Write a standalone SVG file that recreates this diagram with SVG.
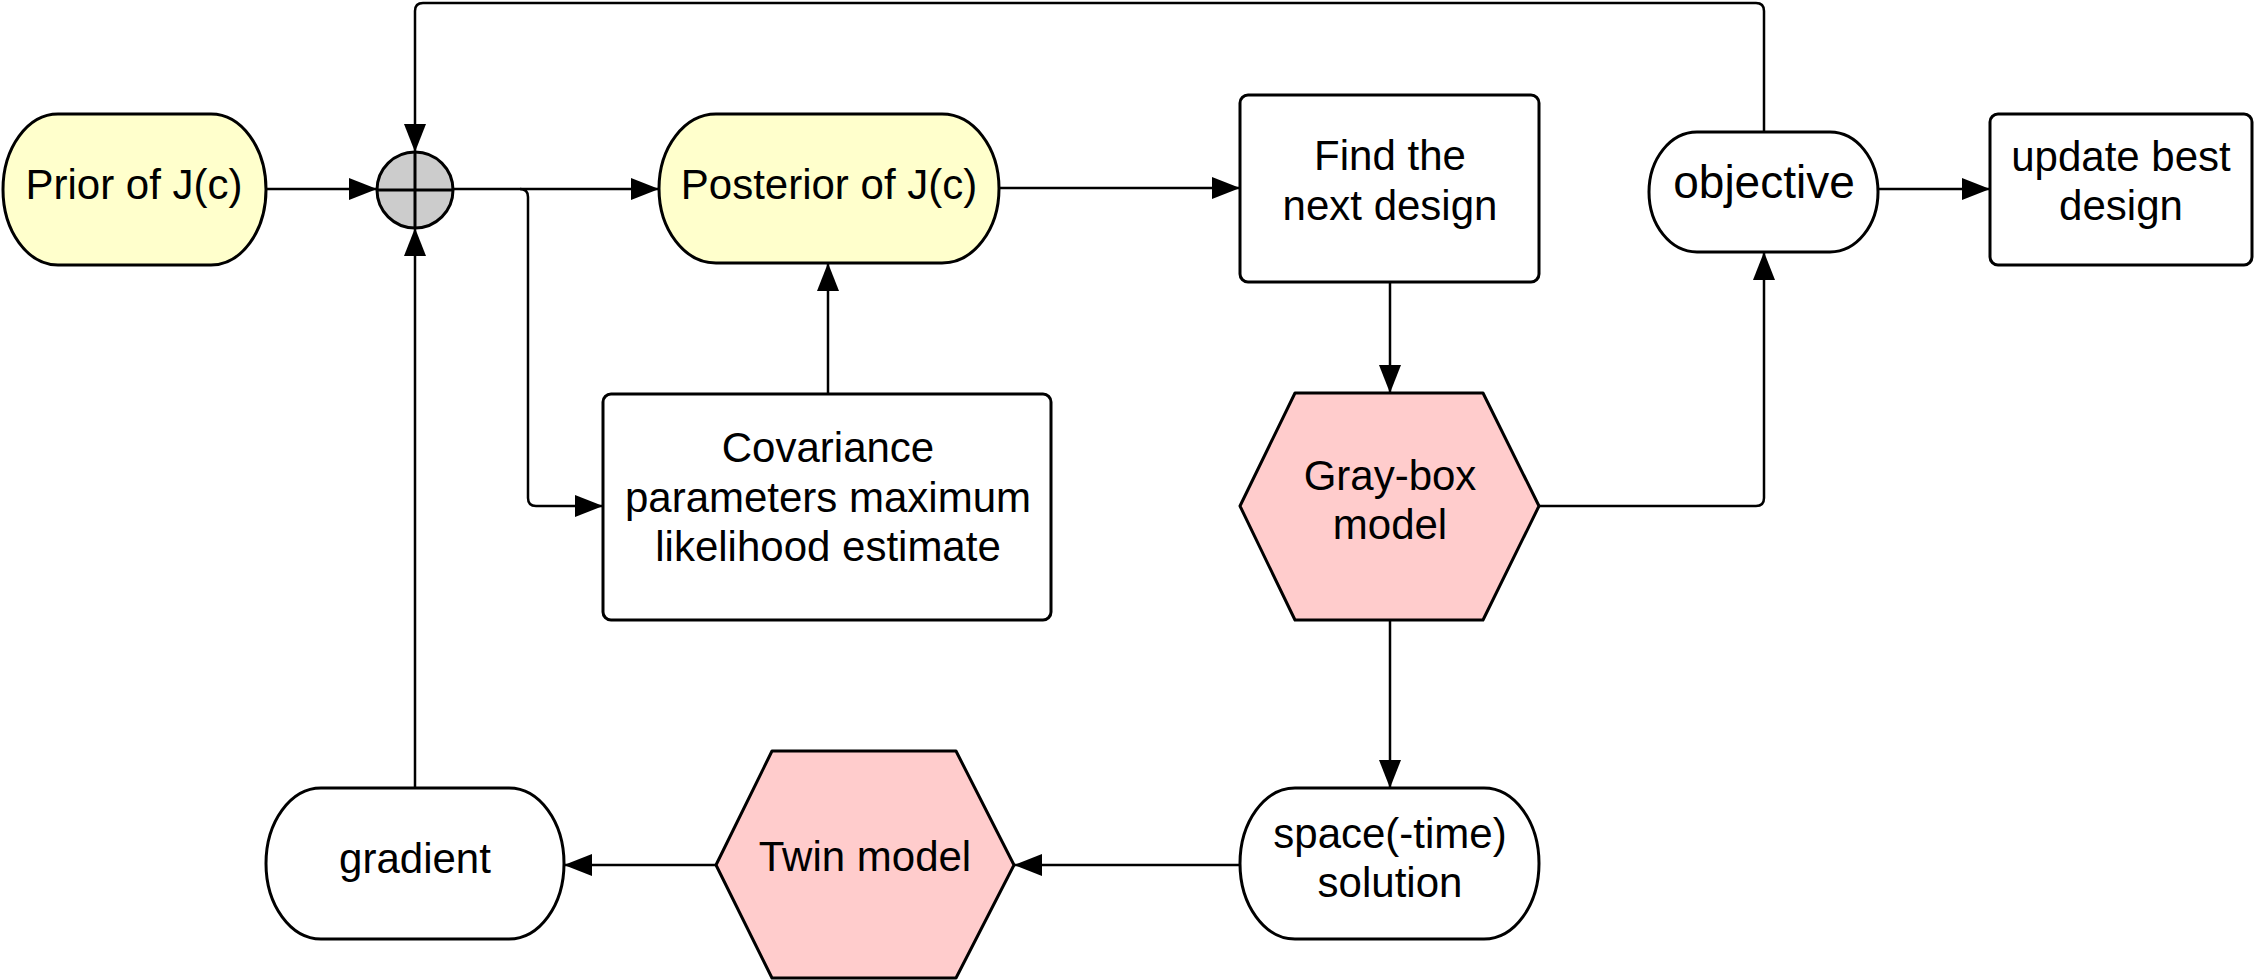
<svg xmlns="http://www.w3.org/2000/svg" width="2255" height="980" viewBox="0 0 2255 980">
<style>
.n{stroke:#000;stroke-width:3;}
.y{fill:#ffffcc;}
.w{fill:#fff;}
.p{fill:#ffcccc;}
.g{fill:#cccccc;}
.c{fill:none;stroke:#000;stroke-width:2.5;stroke-linejoin:round;}
.t{font-family:"Liberation Sans",Arial,sans-serif;font-size:42px;fill:#000;text-anchor:middle;}
</style>
<defs>
<marker id="a" markerUnits="userSpaceOnUse" markerWidth="30" markerHeight="22" refX="28" refY="11" orient="auto">
<path d="M0,0 L28,11 L0,22 Z" fill="#000"/>
</marker>
</defs>
<rect width="2255" height="980" fill="#fff"/>
<g id="connectors">
<path class="c" d="M266,189 H377" stroke-width="3.5" marker-end="url(#a)"/>
<path class="c" d="M452,189 H659" marker-end="url(#a)"/>
<path class="c" d="M520,189 Q528,189 528,197 V498 Q528,506 536,506 H603" stroke-width="2" marker-end="url(#a)"/>
<path class="c" d="M1764,132 V11 Q1764,3 1756,3 H423 Q415,3 415,11 V152" marker-end="url(#a)"/>
<path class="c" d="M415,788 V228" marker-end="url(#a)"/>
<path class="c" d="M999,188 H1240" stroke-width="2" marker-end="url(#a)"/>
<path class="c" d="M828,394 V263" marker-end="url(#a)"/>
<path class="c" d="M1390,282 V393" marker-end="url(#a)"/>
<path class="c" d="M1539,506 H1756 Q1764,506 1764,498 V252" marker-end="url(#a)"/>
<path class="c" d="M1878,189 H1990" stroke-width="3.5" marker-end="url(#a)"/>
<path class="c" d="M1390,620 V788" stroke-width="2" marker-end="url(#a)"/>
<path class="c" d="M1240,865 H1014" stroke-width="3.5" marker-end="url(#a)"/>
<path class="c" d="M716,865 H564" stroke-width="3.5" marker-end="url(#a)"/>
</g>
<g id="prior">
<rect class="n y" x="3" y="114" width="263" height="151" rx="55" ry="75.5"/>
<text class="t" x="134" y="199">Prior of J(c)</text>
</g>
<g id="sum">
<circle class="n g" cx="415" cy="190" r="38"/>
<path d="M377,190 H453 M415,152 V228" stroke="#000" stroke-width="3"/>
</g>
<g id="posterior">
<rect class="n y" x="659" y="114" width="340" height="149" rx="57" ry="74.5"/>
<text class="t" x="829" y="199">Posterior of J(c)</text>
</g>
<g id="covariance">
<rect class="n w" x="603" y="394" width="448" height="226" rx="8"/>
<text class="t" x="828" y="462">Covariance</text>
<text class="t" x="828" y="512">parameters maximum</text>
<text class="t" x="828" y="561">likelihood estimate</text>
</g>
<g id="find">
<rect class="n w" x="1240" y="95" width="299" height="187" rx="8"/>
<text class="t" x="1390" y="170">Find the</text>
<text class="t" x="1390" y="220">next design</text>
</g>
<g id="objective">
<rect class="n w" x="1649" y="132" width="229" height="120" rx="48" ry="60"/>
<text class="t" x="1764" y="198" style="font-size:46px">objective</text>
</g>
<g id="update">
<rect class="n w" x="1990" y="114" width="262" height="151" rx="8"/>
<text class="t" x="2121" y="171">update best</text>
<text class="t" x="2121" y="220">design</text>
</g>
<g id="graybox">
<path class="n p" stroke-linejoin="round" d="M1295,393 H1483 L1539,506 L1483,620 H1295 L1240,506 Z"/>
<text class="t" x="1390" y="490">Gray-box</text>
<text class="t" x="1390" y="539">model</text>
</g>
<g id="space">
<rect class="n w" x="1240" y="788" width="299" height="151" rx="55" ry="75.5"/>
<text class="t" x="1390" y="848">space(-time)</text>
<text class="t" x="1390" y="897">solution</text>
</g>
<g id="twin">
<path class="n p" stroke-linejoin="round" d="M772,751 H956 L1014,865 L956,978 H772 L716,865 Z"/>
<text class="t" x="865" y="871">Twin model</text>
</g>
<g id="gradient">
<rect class="n w" x="266" y="788" width="298" height="151" rx="55" ry="75.5"/>
<text class="t" x="415" y="873">gradient</text>
</g>
</svg>
